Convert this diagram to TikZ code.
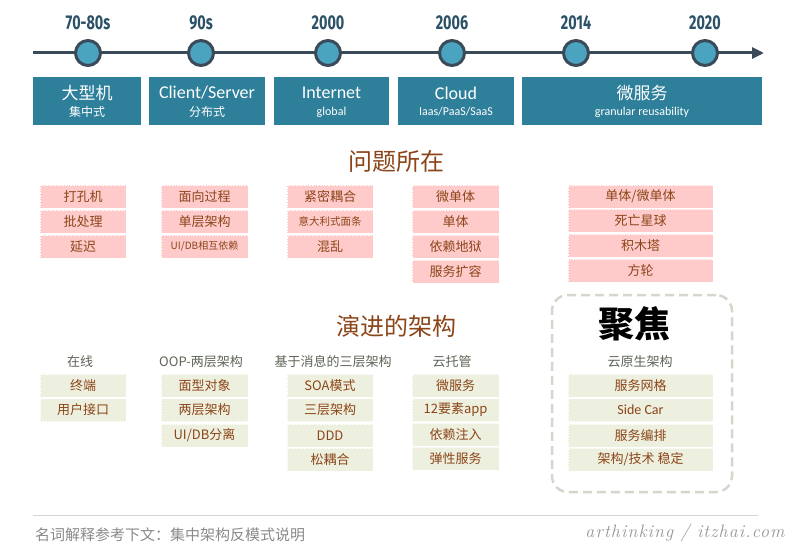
\documentclass[tikz,border=0pt]{standalone}
\usepackage{fontspec}
\setmainfont{Carlito}
\newfontfamily\cjk{Noto Sans CJK SC}
\newfontfamily\yearfont[FakeStretch=0.72]{Fira Sans}
\newfontfamily\sigfont[LetterSpace=6]{Latin Modern Roman}
\usetikzlibrary{arrows.meta}
\definecolor{tlc}{HTML}{3B4A58}
\definecolor{circ}{HTML}{4AA3BF}
\definecolor{tealbox}{HTML}{2E7F9A}
\definecolor{yr}{HTML}{2A5166}
\definecolor{pinkbox}{HTML}{FFCACA}
\definecolor{brn}{HTML}{8B4518}
\definecolor{grnbox}{HTML}{EEF0DF}
\definecolor{hdr}{HTML}{5D6556}
\definecolor{dashc}{HTML}{D6D6CE}
\definecolor{foot}{HTML}{8A8A8A}
\tikzset{
  tl/.style={draw=tlc, line width=3pt},
  dot/.style={circle, draw=tlc, line width=3pt, fill=circ, minimum size=25pt, inner sep=0pt},
  year/.style={text=yr, font={\yearfont\bfseries\fontsize{20}{22}\selectfont}, inner sep=0pt},
  tbox/.style={fill=tealbox, minimum height=48pt, inner sep=0pt},
  tmain/.style={text=white, font={\fontsize{18}{20}\selectfont}, inner sep=0pt},
  tmaincjk/.style={text=white, font={\cjk\fontsize{17}{19}\selectfont}, inner sep=0pt},
  tsub/.style={text=white, font={\fontsize{12}{14}\selectfont}, inner sep=0pt},
  tsubcjk/.style={text=white, font={\cjk\fontsize{12}{14}\selectfont}, inner sep=0pt},
  title/.style={text=brn, font={\cjk\fontsize{24}{28}\selectfont}, inner sep=0pt},
  pk/.style={fill=pinkbox, draw=white, densely dotted, line width=0.6pt, minimum height=23pt, inner sep=0pt, text=brn, font={\cjk\fontsize{13}{15}\selectfont}},
  gr/.style={fill=grnbox, draw=white, densely dotted, line width=0.6pt, minimum height=23pt, inner sep=0pt, text=brn, font={\cjk\fontsize{13}{15}\selectfont}},
  hd/.style={text=hdr, font={\cjk\fontsize{13}{15}\selectfont}, inner sep=0pt},
  focusbox/.style={draw=dashc, line width=2.5pt, dash pattern=on 9pt off 5pt, rounded corners=16pt, minimum width=180pt, minimum height=197pt},
  footline/.style={draw=dashc, line width=1pt},
}
\begin{document}
\begin{tikzpicture}[x=1pt,y=-1pt]
\useasboundingbox[fill=white] (0,0) rectangle (800,553);
% timeline
\coordinate (ts) at (33,53);
\coordinate (te) at (764,53);
\draw[tl, -{Triangle[length=12pt,width=11pt]}] (ts) -- (te);
\foreach \n/\x/\y in {d1/88/70-80s, d2/201/90s, d3/328/2000, d4/452/2006, d5/576/2014, d6/705/2020}{
  \node[dot] (\n) at (\x,53) {};
  \node[year] (y\n) at (\x,23) {\y};
}
% era boxes
\node[tbox, minimum width=108pt] (b1) at (87,101) {};
\node[tmaincjk] (b1m) at (87,93) {大型机};
\node[tsubcjk] (b1s) at (87,112) {集中式};
\node[tbox, minimum width=116pt] (b2) at (207,101) {};
\node[tmain] (b2m) at (207,93) {Client/Server};
\node[tsubcjk] (b2s) at (207,112) {分布式};
\node[tbox, minimum width=115pt] (b3) at (331.5,101) {};
\node[tmain] (b3m) at (331.5,93) {Internet};
\node[tsub] (b3s) at (331.5,112) {global};
\node[tbox, minimum width=116pt] (b4) at (456,101) {};
\node[tmain] (b4m) at (456,93) {Cloud};
\node[tsub] (b4s) at (456,112) {Iaas/PaaS/SaaS};
\node[tbox, minimum width=240pt] (b5) at (642,101) {};
\node[tmaincjk] (b5m) at (642,93) {微服务};
\node[tsub] (b5s) at (642,112) {granular reusability};
% problems
\node[title] (t1) at (396,161) {问题所在};
\node[pk, minimum width=86pt] (p11) at (83,196.5) {打孔机};
\node[pk, minimum width=86pt] (p12) at (83,221.5) {批处理};
\node[pk, minimum width=86pt] (p13) at (83,246.5) {延迟};
\node[pk, minimum width=87pt] (p21) at (204.5,196.5) {面向过程};
\node[pk, minimum width=87pt] (p22) at (204.5,221.5) {单层架构};
\node[pk, minimum width=87pt, font={\cjk\fontsize{10}{12}\selectfont}] (p23) at (204.5,246.5) {UI/DB相互依赖};
\node[pk, minimum width=86pt] (p31) at (330,196.5) {紧密耦合};
\node[pk, minimum width=86pt, font={\cjk\fontsize{10.5}{12}\selectfont}] (p32) at (330,221.5) {意大利式面条};
\node[pk, minimum width=86pt] (p33) at (330,246.5) {混乱};
\node[pk, minimum width=87pt] (p41) at (455.5,196.5) {微单体};
\node[pk, minimum width=87pt] (p42) at (455.5,221.5) {单体};
\node[pk, minimum width=87pt] (p43) at (455.5,246.5) {依赖地狱};
\node[pk, minimum width=87pt] (p44) at (455.5,271.5) {服务扩容};
\node[pk, minimum width=145pt] (p51) at (640.5,196.5) {单体/微单体};
\node[pk, minimum width=145pt] (p52) at (640.5,221) {死亡星球};
\node[pk, minimum width=145pt] (p53) at (640.5,245.5) {积木塔};
\node[pk, minimum width=145pt] (p54) at (640.5,270.5) {方轮};
% evolution
\node[title] (t2) at (396,326) {演进的架构};
\node[focusbox] (fb) at (642,393.5) {};
\node[text=black, font={\cjk\bfseries\fontsize{36}{40}\selectfont}, inner sep=0pt] (fc) at (634,324) {聚焦};
\node[hd] (h1) at (80,362) {在线};
\node[hd] (h2) at (201,362) {OOP-两层架构};
\node[hd] (h3) at (333,362) {基于消息的三层架构};
\node[hd] (h4) at (452,362) {云托管};
\node[hd] (h5) at (640,362) {云原生架构};
\node[gr, minimum width=86pt] (g11) at (83,385.5) {终端};
\node[gr, minimum width=86pt] (g12) at (83,410) {用户接口};
\node[gr, minimum width=87pt] (g21) at (204.5,385.5) {面型对象};
\node[gr, minimum width=87pt] (g22) at (204.5,410) {两层架构};
\node[gr, minimum width=87pt] (g23) at (204.5,435.5) {UI/DB分离};
\node[gr, minimum width=86pt] (g31) at (330,385.5) {SOA模式};
\node[gr, minimum width=86pt] (g32) at (330,410) {三层架构};
\node[gr, minimum width=86pt] (g33) at (330,435.5) {DDD};
\node[gr, minimum width=86pt] (g34) at (330,459.5) {松耦合};
\node[gr, minimum width=87pt] (g41) at (455.5,385.5) {微服务};
\node[gr, minimum width=87pt] (g42) at (455.5,410) {12要素app};
\node[gr, minimum width=87pt] (g43) at (455.5,434.5) {依赖注入};
\node[gr, minimum width=87pt] (g44) at (455.5,458.5) {弹性服务};
\node[gr, minimum width=145pt] (g51) at (640.5,385.5) {服务网格};
\node[gr, minimum width=145pt, font={\fontsize{14}{16}\selectfont}] (g52) at (640.5,410) {Side Car};
\node[gr, minimum width=145pt] (g53) at (640.5,435.5) {服务编排};
\node[gr, minimum width=145pt] (g54) at (640.5,459.5) {架构/技术 稳定};
% footer
\coordinate (fl1) at (33,515);
\coordinate (fl2) at (758,515);
\draw[footline] (fl1) -- (fl2);
\node[anchor=west, text=foot, font={\cjk\fontsize{15}{17}\selectfont}, inner sep=0pt] (ft) at (35,535) {名词解释参考下文：集中架构反模式说明};
\node[text=foot!90, font={\sigfont\itshape\fontsize{18}{20}\selectfont}, inner sep=0pt] (sig) at (685,533) {arthinking / itzhai.com};
\end{tikzpicture}
\end{document}
